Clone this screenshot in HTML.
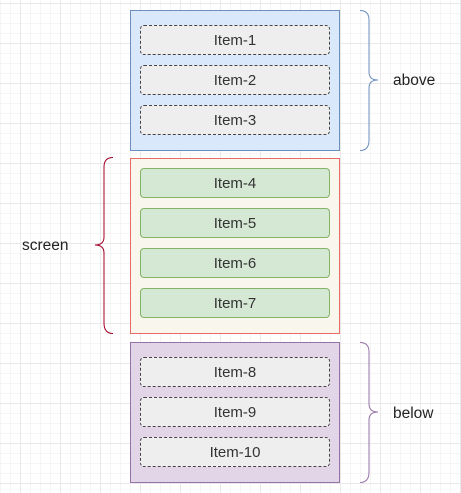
<!DOCTYPE html>
<html><head><style>
body{margin:0;width:461px;height:493px;overflow:hidden;background:#fff;
background-image:linear-gradient(#e9e9e9 1px,transparent 1px),linear-gradient(90deg,#e9e9e9 1px,transparent 1px),linear-gradient(#f5f5f5 1px,transparent 1px),linear-gradient(90deg,#f5f5f5 1px,transparent 1px);
background-size:40px 40px,40px 40px,10px 10px,10px 10px;background-position:20px 3px,20px 3px,0 3px,0 3px;
font-family:"Liberation Sans",Arial,sans-serif;}
.box{position:absolute;left:130px;width:210px;box-sizing:border-box;}
.it{position:absolute;left:140px;width:190px;height:30px;box-sizing:border-box;border-radius:4px;font-size:15px;color:#333;text-align:center;line-height:30px}
.d{background:#eeeeee;border:1px dashed #444}
.g{background:#d5e8d4;border:1px solid #82b366}
.lbl{position:absolute;font-size:15.5px;color:#222}
</style></head><body>
<div class="box" style="top:10px;height:141px;background:#dae8fc;border:1px solid #6c8ebf"></div>
<div class="box" style="top:158px;height:176px;background:#f9f7ed;border:1px solid #ea6b66"></div>
<div class="box" style="top:342px;height:141px;background:#e1d5e7;border:1px solid #9673a6"></div>
<div class="it d" style="top:25px">Item-1</div>
<div class="it d" style="top:65px">Item-2</div>
<div class="it d" style="top:105px">Item-3</div>
<div class="it g" style="top:168px">Item-4</div>
<div class="it g" style="top:208px">Item-5</div>
<div class="it g" style="top:248px">Item-6</div>
<div class="it g" style="top:288px">Item-7</div>
<div class="it d" style="top:357px">Item-8</div>
<div class="it d" style="top:397px">Item-9</div>
<div class="it d" style="top:437px">Item-10</div>
<svg width="461" height="493" style="position:absolute;left:0;top:0" fill="none" stroke-width="1">
<path d="M360 10.5 Q369 10.5 369 20 L369 72 Q369 80 378 80 Q369 80 369 88 L369 140 Q369 150.5 360 150.5" stroke="#6c8ebf"/>
<path d="M360 342.5 Q369 342.5 369 352 L369 404 Q369 412 378 412 Q369 412 369 420 L369 472 Q369 482.5 360 482.5" stroke="#9673a6"/>
<path d="M113 157.5 Q104 157.5 104 167 L104 237 Q104 245 95 245 Q104 245 104 253 L104 323 Q104 333.5 113 333.5" stroke="#a20025"/>
</svg>
<div class="lbl" style="left:393px;top:72px">above</div>
<div class="lbl" style="left:22px;top:237px">screen</div>
<div class="lbl" style="left:393px;top:405px">below</div>
</body></html>
